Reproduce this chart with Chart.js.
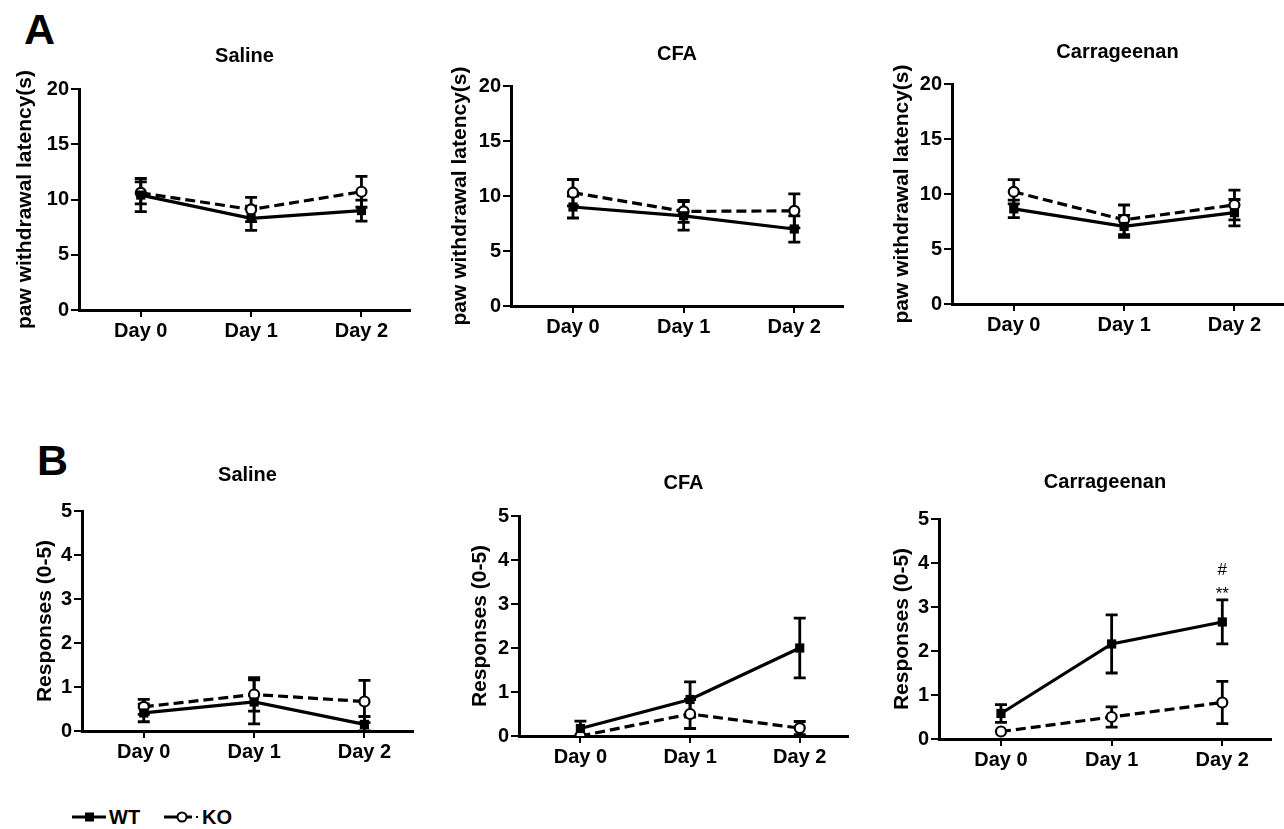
<!DOCTYPE html>
<html>
<head>
<meta charset="utf-8">
<script src="https://cdn.jsdelivr.net/npm/chart.js@4.4.1/dist/chart.umd.min.js"></script>
<style>
  body { margin: 0; background: #fff; width: 1284px; height: 829px; overflow: hidden; position: relative;
         font-family: "Liberation Sans", Arial, sans-serif; }
  canvas { position: absolute; }
  .letter { position: absolute; font-weight: bold; font-size: 43px; line-height: 43px; }
  .leg { position: absolute; font-weight: bold; font-size: 20px; line-height: 20px; }
  svg { position: absolute; }
</style>
</head>
<body>
<div class="letter" style="left:24px;top:8px">A</div>
<div class="letter" style="left:37px;top:439px">B</div>

<canvas id="p0"></canvas>
<canvas id="p1"></canvas>
<canvas id="p2"></canvas>
<canvas id="p3"></canvas>
<canvas id="p4"></canvas>
<canvas id="p5"></canvas>

<svg style="left:72px;top:810px" width="34" height="14">
  <line x1="0" y1="7" x2="34" y2="7" stroke="#000" stroke-width="3"/>
  <rect x="13" y="2.5" width="9" height="9" fill="#000"/>
</svg>
<div class="leg" style="left:109px;top:807px">WT</div>
<svg style="left:164px;top:810px" width="36" height="14">
  <line x1="0" y1="7" x2="13" y2="7" stroke="#000" stroke-width="3"/>
  <circle cx="18" cy="7" r="4.5" fill="#fff" stroke="#000" stroke-width="2"/>
  <line x1="22" y1="7" x2="28" y2="7" stroke="#000" stroke-width="3"/>
  <line x1="32" y1="7" x2="34" y2="7" stroke="#000" stroke-width="2"/>
</svg>
<div class="leg" style="left:202px;top:807px">KO</div>

<script>
const days = ['Day 0', 'Day 1', 'Day 2'];
const treatments = ['Saline', 'CFA', 'Carrageenan'];

// A - paw withdrawal latency (s): means and error bars, one row per treatment
const latencyWT = [[10.4, 8.3, 9.0], [9.0, 8.2, 7.0], [8.65, 7.05, 8.3]];
const latencyWTerr = [[1.5, 1.1, 0.95], [1.0, 1.3, 1.2], [0.8, 1.0, 1.2]];
const latencyKO = [[10.6, 9.1, 10.7], [10.3, 8.6, 8.65], [10.2, 7.65, 9.0]];
const latencyKOerr = [[1.0, 1.1, 1.4], [1.2, 1.0, 1.55], [1.1, 1.35, 1.35]];

// B - responses (0-5)
const responseWT = [[0.41, 0.66, 0.15], [0.17, 0.83, 2.0], [0.58, 2.16, 2.66]];
const responseWTerr = [[0.2, 0.5, 0.18], [0.17, 0.4, 0.68], [0.2, 0.66, 0.5]];
const responseKO = [[0.55, 0.83, 0.67], [0.0, 0.5, 0.18], [0.17, 0.5, 0.83]];
const responseKOerr = [[0.17, 0.38, 0.48], [0, 0.33, 0.15], [0, 0.23, 0.48]];

// significance marks above WT, Carrageenan Day 2
const carrageenanMarks = ['**', '#'];

// plot area of each panel on the page
const boxes = [
  { L: 79,  R: 410,  T: 89,  B: 310, tGap: 33, yGap: 54 },
  { L: 511, R: 843,  T: 86,  B: 306, tGap: 32, yGap: 51 },
  { L: 952, R: 1283, T: 84,  B: 304, tGap: 32, yGap: 50 },
  { L: 82,  R: 413,  T: 511, B: 731, tGap: 36, yGap: 37 },
  { L: 519, R: 848,  T: 516, B: 736, tGap: 33, yGap: 39 },
  { L: 939, R: 1271, T: 519, B: 739, tGap: 37, yGap: 37 }
];

const FONT = '"Liberation Sans", Arial, sans-serif';
const PAD_L = 100, PAD_T = 70, PAD_R = 12, PAD_B = 50;

const errorBars = {
  id: 'errorBars',
  beforeDatasetsDraw(chart) {
    const { ctx, scales: { x, y } } = chart;
    ctx.save();
    ctx.strokeStyle = '#000';
    ctx.lineWidth = 2.8;
    chart.data.datasets.forEach(ds => {
      ds.data.forEach((p, j) => {
        const e = ds.errors[j];
        if (!e) return;
        const px = x.getPixelForValue(p.x);
        const top = y.getPixelForValue(p.y + e);
        const bot = y.getPixelForValue(Math.max(0, p.y - e));
        ctx.beginPath();
        ctx.moveTo(px, top); ctx.lineTo(px, bot);
        ctx.moveTo(px - 6, top); ctx.lineTo(px + 6, top);
        ctx.moveTo(px - 6, bot); ctx.lineTo(px + 6, bot);
        ctx.stroke();
      });
    });
    ctx.restore();
  },
  afterDatasetsDraw(chart, args, opts) {
    if (!opts.marks) return;
    const { ctx, scales: { x, y } } = chart;
    const ds = chart.data.datasets[0];
    const p = ds.data[2];
    const px = x.getPixelForValue(p.x);
    const top = y.getPixelForValue(p.y + ds.errors[2]);
    ctx.save();
    ctx.fillStyle = '#000';
    ctx.font = '17px ' + FONT;
    ctx.textAlign = 'center';
    ctx.textBaseline = 'middle';
    opts.marks.forEach((m, k) => ctx.fillText(m, px, top - 6 - k * 24));
    ctx.restore();
  }
};

const panelText = {
  id: 'panelText',
  afterDraw(chart, args, opts) {
    const { ctx, chartArea: a } = chart;
    ctx.save();
    ctx.fillStyle = '#000';
    ctx.textAlign = 'center';
    ctx.textBaseline = 'middle';
    ctx.font = 'bold 20px ' + FONT;
    ctx.fillText(opts.title, (a.left + a.right) / 2, a.top - opts.tGap);
    ctx.translate(a.left - opts.yGap, (a.top + a.bottom) / 2);
    ctx.rotate(-Math.PI / 2);
    ctx.font = 'bold 21px ' + FONT;
    ctx.fillText(opts.yTitle, 0, 0);
    ctx.restore();
  }
};

function makePanel(i, wt, wtErr, ko, koErr, yMax, yStep, yTitle, marks) {
  const b = boxes[i];
  const cv = document.getElementById('p' + i);
  const w = b.R - b.L + PAD_L + PAD_R;
  const h = b.B - b.T + PAD_T + PAD_B;
  cv.width = w; cv.height = h;
  cv.style.left = (b.L - PAD_L) + 'px';
  cv.style.top = (b.T - PAD_T) + 'px';

  const axis = {
    border: { display: true, color: '#000', width: 3 },
    grid: { drawOnChartArea: false, drawTicks: true, color: '#000', lineWidth: 2 },
    ticks: { color: '#000', font: { family: FONT, size: 20, weight: 'bold' } }
  };

  new Chart(cv, {
    type: 'line',
    data: {
      datasets: [
        {
          label: 'WT',
          data: wt.map((v, k) => ({ x: k, y: v })),
          errors: wtErr,
          borderColor: '#000', backgroundColor: '#000',
          borderWidth: 3.2,
          pointStyle: 'rect', pointRadius: 6.5,
          pointBackgroundColor: '#000', pointBorderWidth: 0
        },
        {
          label: 'KO',
          data: ko.map((v, k) => ({ x: k, y: v })),
          errors: koErr,
          borderColor: '#000', backgroundColor: '#fff',
          borderWidth: 3.2, borderDash: [10, 5],
          pointStyle: 'circle', pointRadius: 5,
          pointBackgroundColor: '#fff', pointBorderColor: '#000', pointBorderWidth: 2.2
        }
      ]
    },
    options: {
      responsive: false,
      animation: false,
      devicePixelRatio: 1,
      layout: { padding: { left: 0, top: PAD_T, right: PAD_R, bottom: 0 } },
      plugins: {
        legend: { display: false },
        tooltip: { enabled: false },
        panelText: { title: treatments[i % 3], yTitle: yTitle, tGap: b.tGap, yGap: b.yGap },
        errorBars: { marks: marks }
      },
      scales: {
        x: {
          ...axis,
          type: 'linear',
          min: -0.56, max: 2.44,
          grid: { ...axis.grid, tickLength: 7 },
          ticks: { ...axis.ticks, padding: 2, maxRotation: 0, callback: v => days[v] },
          afterBuildTicks: s => { s.ticks = days.map((d, k) => ({ value: k })); },
          afterFit: s => { s.height = PAD_B; }
        },
        y: {
          ...axis,
          min: 0, max: yMax,
          grid: { ...axis.grid, tickLength: 8 },
          ticks: { ...axis.ticks, stepSize: yStep, padding: 2 },
          afterFit: s => { s.width = PAD_L; }
        }
      }
    },
    plugins: [errorBars, panelText]
  });
}

for (let t = 0; t < 3; t++) {
  makePanel(t, latencyWT[t], latencyWTerr[t], latencyKO[t], latencyKOerr[t], 20, 5,
    'paw withdrawal latency(s)', null);
  makePanel(t + 3, responseWT[t], responseWTerr[t], responseKO[t], responseKOerr[t], 5, 1,
    'Responses (0-5)', t === 2 ? carrageenanMarks : null);
}
</script>
</body>
</html>
